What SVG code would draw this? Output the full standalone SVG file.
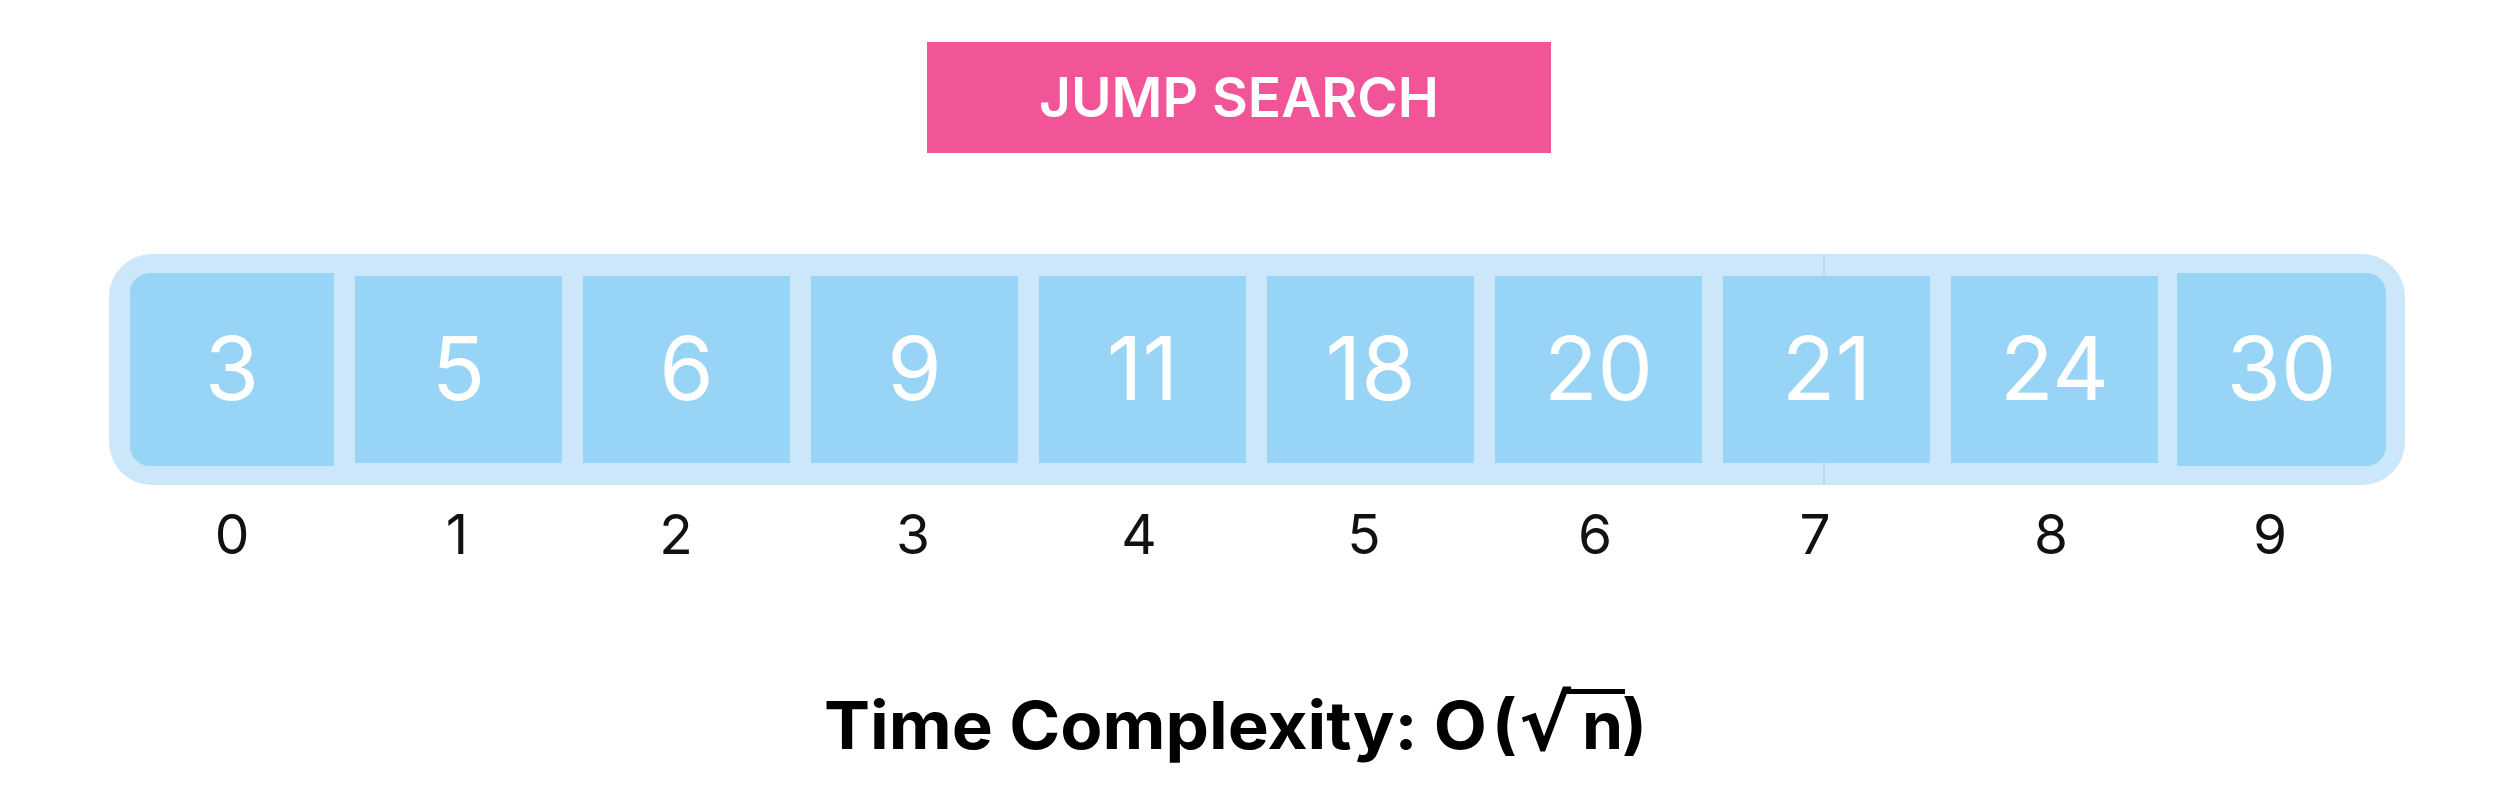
<svg xmlns="http://www.w3.org/2000/svg" width="2507" height="812" viewBox="0 0 2507 812">
<style>
.cell{fill:#98D4F6}
.val{font-family:Inter,"Noto Sans",sans-serif;font-size:88px;fill:#ffffff;text-anchor:middle}
.idx{font-family:Inter,"Noto Sans",sans-serif;font-size:55px;fill:#111111;text-anchor:middle}
.tc{font-family:Inter,"Noto Sans",sans-serif;font-weight:700;font-size:66px;fill:#000000}
</style>
<rect width="2507" height="812" fill="#ffffff"/>
<g id="title">
<rect x="927" y="42" width="624" height="111" fill="#F25597"/>
<text x="1239" y="117" text-anchor="middle" font-family="Inter,'Noto Sans',sans-serif" font-weight="600" font-size="55" fill="#ffffff" textLength="400" lengthAdjust="spacingAndGlyphs">JUMP SEARCH</text>
</g>
<g id="array">
<rect x="109" y="254" width="2296" height="231" rx="43" ry="43" fill="#CCE7FA"/>
<line x1="1824" y1="254" x2="1824" y2="276" stroke="#A8CBE6" stroke-width="1"/>
<line x1="1824" y1="463" x2="1824" y2="485" stroke="#A8CBE6" stroke-width="1"/>
</g>
<g id="cell0"><path class="cell" d="M150 273 H334 V466 H150 A20 20 0 0 1 130 446 V293 A20 20 0 0 1 150 273 Z"/><text class="val" x="232" y="400">3</text><text class="idx" x="232" y="554">0</text></g>
<g id="cell1"><rect class="cell" x="355" y="276" width="207" height="187"/><text class="val" x="458.5" y="400">5</text><text class="idx" x="457" y="554">1</text></g>
<g id="cell2"><rect class="cell" x="583" y="276" width="207" height="187"/><text class="val" x="686.5" y="400">6</text><text class="idx" x="676" y="554">2</text></g>
<g id="cell3"><rect class="cell" x="811" y="276" width="207" height="187"/><text class="val" x="914.5" y="400">9</text><text class="idx" x="913" y="554">3</text></g>
<g id="cell4"><rect class="cell" x="1039" y="276" width="207" height="187"/><text class="val" x="1142.5" y="400">11</text><text class="idx" x="1139" y="554">4</text></g>
<g id="cell5"><rect class="cell" x="1267" y="276" width="207" height="187"/><text class="val" x="1370.5" y="400">18</text><text class="idx" x="1364" y="554">5</text></g>
<g id="cell6"><rect class="cell" x="1495" y="276" width="207" height="187"/><text class="val" x="1598.5" y="400">20</text><text class="idx" x="1595" y="554">6</text></g>
<g id="cell7"><rect class="cell" x="1723" y="276" width="207" height="187"/><text class="val" x="1826.5" y="400">21</text><text class="idx" x="1815" y="554">7</text></g>
<g id="cell8"><rect class="cell" x="1951" y="276" width="207" height="187"/><text class="val" x="2054.5" y="400">24</text><text class="idx" x="2051" y="554">8</text></g>
<g id="cell9"><path class="cell" d="M2177 273 H2366 A20 20 0 0 1 2386 293 V446 A20 20 0 0 1 2366 466 H2177 Z"/><text class="val" x="2281.5" y="400">30</text><text class="idx" x="2270" y="554">9</text></g>
<g id="connectors"></g>
<g id="complexity">
<text class="tc" x="824" y="749" textLength="663" lengthAdjust="spacingAndGlyphs">Time Complexity: O</text>
<text class="tc" x="1492" y="747" font-size="80">(</text>
<text x="1519" y="750" font-family="'DejaVu Sans',sans-serif" font-weight="700" font-size="76" fill="#000000" textLength="52" lengthAdjust="spacingAndGlyphs">√</text>
<rect x="1564" y="689" width="61" height="5" fill="#000000"/>
<text class="tc" x="1582" y="749">n</text>
<text class="tc" x="1622" y="747" font-size="80">)</text>
</g>
</svg>
